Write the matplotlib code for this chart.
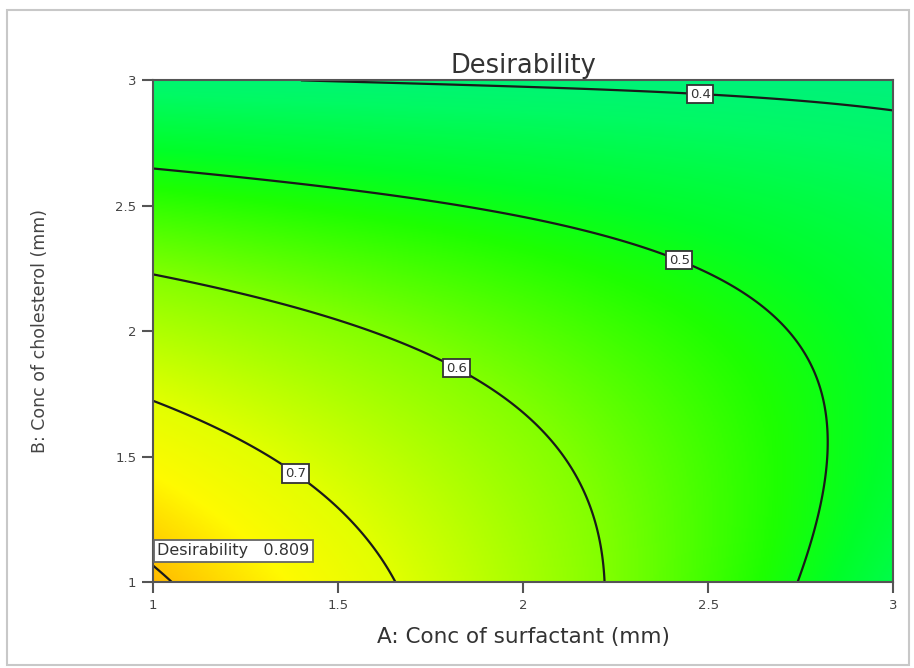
import numpy as np
import matplotlib
matplotlib.use("Agg")
import matplotlib.pyplot as plt
from matplotlib.colors import LinearSegmentedColormap
from matplotlib.patches import Rectangle

# points (A, B) for each desirability level
A_08 = [1.0, 1.054]
B_08 = [1.068, 1.0]
A_07 = [1.0, 1.173, 1.343, 1.397, 1.486, 1.578, 1.654]
B_07 = [1.713, 1.606, 1.474, 1.458, 1.315, 1.167, 1.0]
A_06 = [1.0, 1.351, 1.757, 1.827, 2.046, 2.181, 2.211]
B_06 = [2.215, 2.104, 1.900, 1.873, 1.526, 1.247, 1.0]
A_05 = [1.0, 1.668, 2.208, 2.432, 2.478, 2.614, 2.749, 2.822, 2.849, 2.838, 2.795, 2.727]
B_05 = [2.637, 2.570, 2.386, 2.323, 2.243, 2.151, 2.004, 1.857, 1.657, 1.458, 1.235, 1.0]
A_04 = [1.316, 1.42, 1.532, 2.208, 2.478, 3.0]
B_04 = [3.0, 2.995, 2.988, 2.940, 2.925, 2.880]
# estimated values at corners / peak
A_pts = [1.0, 3.0, 3.0, 1.0, 3.0]
B_pts = [1.0, 1.0, 2.0, 3.0, 3.0]
D_pts = [0.809, 0.45, 0.455, 0.41, 0.388]

LEVELS = [0.4, 0.5, 0.6, 0.7, 0.8]
XTICKS = [1, 1.5, 2, 2.5, 3]
YTICKS = [1, 1.5, 2, 2.5, 3]

# collect everything
a_all, b_all, d_all = list(A_pts), list(B_pts), list(D_pts)
for lev, aa, bb in [(0.8, A_08, B_08), (0.7, A_07, B_07), (0.6, A_06, B_06),
                    (0.5, A_05, B_05), (0.4, A_04, B_04)]:
    a_all += aa
    b_all += bb
    d_all += [lev] * len(aa)
a_all, b_all, d_all = np.array(a_all), np.array(b_all), np.array(d_all)


def terms(a, b):
    u, v = a - 2, b - 2
    return np.stack([np.ones_like(u), u, v, u * u, u * v, v * v,
                     u ** 3, u * u * v, u * v * v, v ** 3], axis=-1)


coef, *_ = np.linalg.lstsq(terms(a_all, b_all), d_all, rcond=None)

gx = np.linspace(1, 3, 400)
gy = np.linspace(1, 3, 400)
GX, GY = np.meshgrid(gx, gy)
Z = terms(GX, GY) @ coef

vmin, vmax = 0.36, 0.81
anchors = [(0.36, (0, 235, 140)), (0.42, (0, 250, 100)), (0.48, (0, 255, 40)),
           (0.52, (30, 255, 0)), (0.60, (130, 255, 0)), (0.70, (225, 255, 0)),
           (0.75, (255, 250, 0)), (0.81, (255, 185, 0))]
cmap = LinearSegmentedColormap.from_list(
    "desir", [((lv - vmin) / (vmax - vmin), tuple(c / 255 for c in col)) for lv, col in anchors])

fig = plt.figure(figsize=(9.14, 6.68), dpi=100)
ax = fig.add_axes([0.1674, 0.1287, 0.810, 0.751])

ax.imshow(Z, origin="lower", extent=(1, 3, 1, 3), cmap=cmap, vmin=vmin, vmax=vmax,
          aspect="auto", interpolation="bilinear")
cs = ax.contour(GX, GY, Z, levels=LEVELS, colors="#1a1a1a", linewidths=1.6)
lbls = ax.clabel(cs, levels=[0.4, 0.5, 0.6, 0.7], fmt="%.1f", fontsize=9.5, inline=False,
                 manual=[(2.478, 2.93), (2.432, 2.32), (1.827, 1.873), (1.397, 1.458)])
for t in lbls:
    t.set_rotation(0)
    t.set_color("#333333")
    t.set_zorder(4)
    t.set_bbox(dict(boxstyle="square,pad=0.2", fc="white", ec="#333333", lw=1.3))

ax.text(1.012, 1.124, "Desirability   0.809", fontsize=11.5, color="#333333", va="center", ha="left",
        bbox=dict(boxstyle="square,pad=0.2", fc="white", ec="#666666", lw=1.3), zorder=5)

ax.set_xlim(1, 3)
ax.set_ylim(1, 3)
ax.set_xticks(XTICKS)
ax.set_xticklabels(["1", "1.5", "2", "2.5", "3"])
ax.set_yticks(YTICKS)
ax.set_yticklabels(["1", "1.5", "2", "2.5", "3"])
ax.tick_params(direction="out", length=8, width=1.5, color="#555555", labelcolor="#444444",
               labelsize=9.5, pad=4)
for s in ax.spines.values():
    s.set_color("#555555")
    s.set_linewidth(1.5)

ax.set_title("Desirability", fontsize=18.5, color="#333333", pad=5)
ax.set_xlabel("A: Conc of surfactant (mm)", fontsize=15.5, color="#333333", labelpad=11)
ax.set_ylabel("B: Conc of cholesterol (mm)", fontsize=12.5, color="#444444", labelpad=48)

fig.patches.append(Rectangle((7 / 914, 3 / 668), 0.995 - 7 / 914, 1 - 10 / 668 - 3 / 668,
                             transform=fig.transFigure, fill=False, ec="#c8c8c8", lw=1.5))

fig.savefig("out.png", dpi=100)
